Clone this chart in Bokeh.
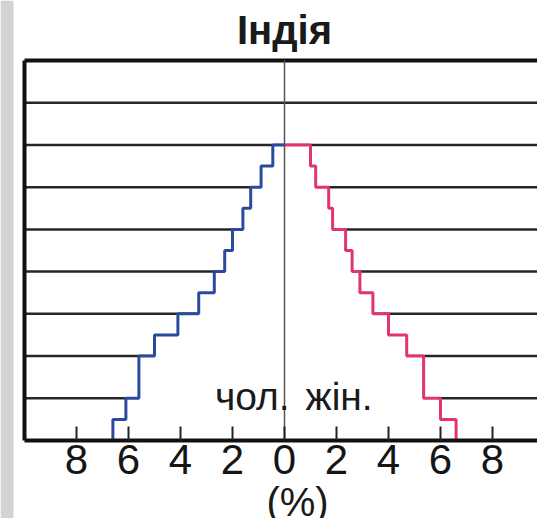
from bokeh.plotting import figure
from bokeh.models import FixedTicker, Label, BoxAnnotation
from bokeh.embed import file_html
from bokeh.resources import INLINE

# ---- data (percent of population by 5-year age group, 0-4 ... 65-69) ----
age_edges = [0, 5, 10, 15, 20, 25, 30, 35, 40, 45, 50, 55, 60, 65, 70]
male = [6.6, 6.1, 5.6, 5.6, 5.0, 4.1, 3.3, 2.7, 2.3, 2.0, 1.6, 1.3, 0.9, 0.45]
female = [6.6, 6.0, 5.35, 5.35, 4.7, 4.0, 3.4, 2.9, 2.6, 2.35, 1.85, 1.7, 1.2, 1.0]
x_ticks = [-8, -6, -4, -2, 0, 2, 4, 6, 8]
x_tick_labels = ["8", "6", "4", "2", "0", "2", "4", "6", "8"]
band_ages = [10, 20, 30, 40, 50, 60, 70, 80]
age_top = 90
title_text = "Індія"
male_text = "чол."
female_text = "жін."
unit_text = "(%)"

FONT = "Liberation Sans"

# step outlines built from the data
mx, my = [], []
for i, v in enumerate(male):
    mx += [-v, -v]
    my += [age_edges[i], age_edges[i + 1]]
mx.append(0)
my.append(age_edges[-1])

fx, fy = [0], [age_edges[-1]]
for i in reversed(range(len(female))):
    fx += [female[i], female[i]]
    fy += [age_edges[i + 1], age_edges[i]]

PX_X = 26.0     # pixels per percent
PX_Y = 4.222    # pixels per year of age
x_left = -10
x_start = -284 / PX_X
x_end = (537 - 284) / PX_X
y_start = -(518 - 440) / PX_Y
y_end = 440 / PX_Y

p = figure(width=537, height=518, x_range=(x_start, x_end), y_range=(y_start, y_end),
           output_backend="svg", toolbar_location=None, title=None,
           x_axis_location="below", y_axis_location=None,
           min_border_left=0, min_border_right=0, min_border_top=0, min_border_bottom=0)
p.outline_line_color = None
p.xgrid.visible = False
p.ygrid.visible = False

# slide edge strip on the left
p.add_layout(BoxAnnotation(left=0, right=13, left_units="screen", right_units="screen",
                           fill_color="#d3d3d3", fill_alpha=1.0, line_color=None))

# horizontal band lines
p.segment(x0=x_left, x1=x_end, y0=band_ages, y1=band_ages,
          line_color="#262626", line_width=2.5)

# white interior of pyramid (hides band lines)
p.patch(mx + fx, my + fy, fill_color="white", line_color=None)

# borders (left, top)
p.line([x_left, x_left], [0, age_top], line_color="#111111", line_width=4)
p.line([x_left, x_end], [age_top, age_top], line_color="#111111", line_width=4)

# step lines
p.line(mx, my, line_color="#2a4aa0", line_width=3)
p.line(fx, fy, line_color="#e2356a", line_width=3)

# centre line
p.line([0, 0], [0, age_top], line_color="#555555", line_width=1.5)

# x axis fixed at age 0
ax = p.xaxis[0]
ax.fixed_location = 0
ax.bounds = (x_left, x_end)
ax.ticker = FixedTicker(ticks=x_ticks)
ax.major_label_overrides = {t: l for t, l in zip(x_ticks, x_tick_labels)}
ax.major_tick_in = 14
ax.major_tick_out = 0
ax.major_tick_line_width = 2
ax.major_tick_line_color = "#222222"
ax.minor_tick_line_color = None
ax.axis_line_width = 4
ax.axis_line_color = "#111111"
ax.major_label_text_font = FONT
ax.major_label_text_font_size = "42px"
ax.major_label_text_color = "#151515"
ax.major_label_standoff = 4

p.add_layout(Label(x=0, y=97.3, text=title_text, text_align="center", text_baseline="alphabetic",
                   text_font=FONT, text_font_size="40px", text_font_style="bold", text_color="#1a1a1a"))
p.add_layout(Label(x=0.2, y=10.4, text=male_text, text_align="right", text_baseline="alphabetic",
                   text_font=FONT, text_font_size="39px", text_color="#1a1a1a"))
p.add_layout(Label(x=0.81, y=10.4, text=female_text, text_align="left", text_baseline="alphabetic",
                   text_font=FONT, text_font_size="39px", text_color="#1a1a1a"))
p.add_layout(Label(x=0.5, y=-14.46, text=unit_text, text_align="center", text_baseline="alphabetic",
                   text_font=FONT, text_font_size="40px", text_color="#1a1a1a"))

open("out.html", "w").write(file_html(p, INLINE))
